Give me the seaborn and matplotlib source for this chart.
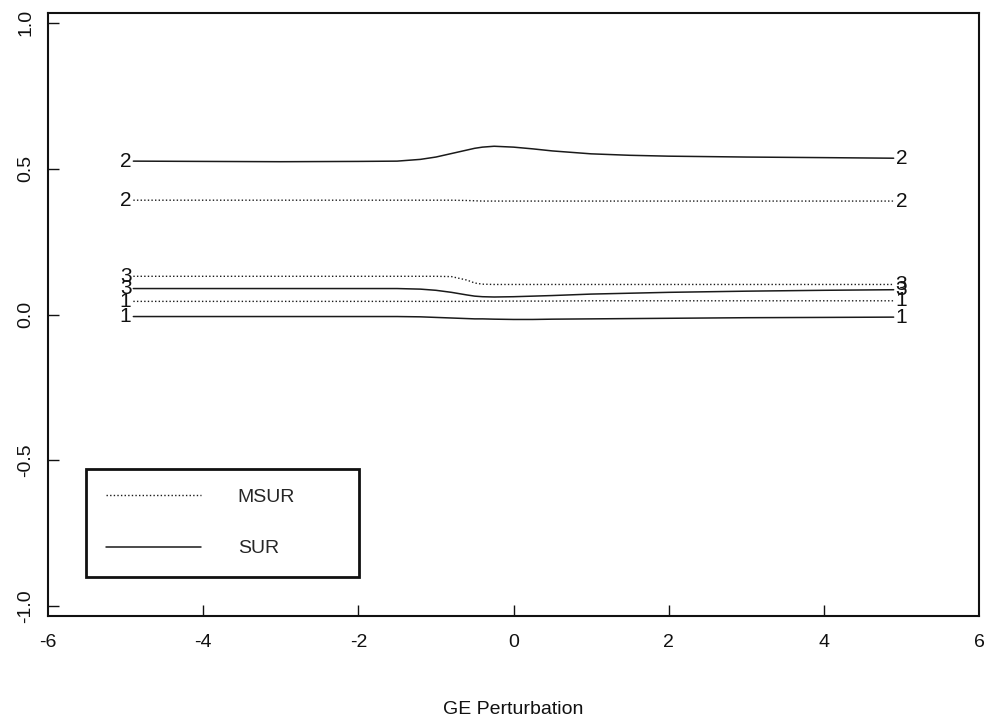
import numpy as np
import pandas as pd
import matplotlib
matplotlib.use("Agg")
import matplotlib.pyplot as plt
import seaborn as sns
from matplotlib.lines import Line2D

# ---------------- data ----------------
x_grid = [-4.9, -4, -3, -2, -1.5, -1.2, -1, -0.8, -0.6, -0.5, -0.4, -0.25,
          0, 0.25, 0.5, 1, 1.5, 2, 3, 4, 4.9]

sur_1 = [-0.007, -0.007, -0.007, -0.007, -0.007, -0.008, -0.010, -0.012, -0.014, -0.015, -0.015, -0.016,
         -0.017, -0.017, -0.016, -0.015, -0.014, -0.013, -0.011, -0.010, -0.009]
sur_2 = [0.526, 0.525, 0.524, 0.525, 0.526, 0.532, 0.540, 0.552, 0.564, 0.570, 0.574, 0.577,
         0.574, 0.568, 0.561, 0.551, 0.546, 0.543, 0.540, 0.538, 0.536]
sur_3 = [0.089, 0.089, 0.089, 0.089, 0.089, 0.087, 0.083, 0.076, 0.067, 0.063, 0.061, 0.060,
         0.061, 0.063, 0.065, 0.070, 0.073, 0.076, 0.080, 0.083, 0.085]
msur_1 = [0.045, 0.045, 0.045, 0.045, 0.045, 0.045, 0.045, 0.045, 0.045, 0.046, 0.046, 0.046,
          0.046, 0.046, 0.046, 0.047, 0.047, 0.047, 0.047, 0.047, 0.047]
msur_2 = [0.392, 0.392, 0.392, 0.392, 0.392, 0.392, 0.392, 0.392, 0.391, 0.390, 0.389, 0.389,
          0.389, 0.389, 0.389, 0.389, 0.389, 0.389, 0.389, 0.389, 0.389]
msur_3 = [0.131, 0.131, 0.131, 0.131, 0.131, 0.131, 0.131, 0.130, 0.118, 0.108, 0.104, 0.103,
          0.103, 0.103, 0.103, 0.103, 0.103, 0.103, 0.103, 0.103, 0.103]

label_x = [-5, 5]
x_ticks = [-4, -2, 0, 2, 4]
x_ticklabels = ["-6", "-4", "-2", "0", "2", "4", "6"]
y_ticks = [-1.0, -0.5, 0.0, 0.5, 1.0]
y_ticklabels = ["-1.0", "-0.5", "0.0", "0.5", "1.0"]
methods = ["MSUR", "SUR"]
x_title = "GE Perturbation"

series = [
    ("SUR", "1", sur_1), ("SUR", "2", sur_2), ("SUR", "3", sur_3),
    ("MSUR", "1", msur_1), ("MSUR", "2", msur_2), ("MSUR", "3", msur_3),
]

# ---------------- style ----------------
sns.set_style("ticks")
plt.rcParams["font.family"] = ["Liberation Sans", "DejaVu Sans"]

styles = {
    "SUR": dict(linestyle="-", linewidth=1.1, color="#1a1a1a"),
    "MSUR": dict(linestyle=(0, (1, 1.6)), linewidth=1.0, color="#1a1a1a"),
}

fig = plt.figure(figsize=(9.86, 7.2), dpi=100)
ax = fig.add_axes([48 / 986, 1 - 616 / 720, 931 / 986, 603 / 720])

for method, lab, vals in series:
    df = pd.DataFrame({"x": x_grid, "y": vals})
    sns.lineplot(data=df, x="x", y="y", ax=ax, estimator=None, sort=False,
                 legend=False, **styles[method])
    for lx, ly in zip(label_x, [vals[0], vals[-1]]):
        ax.text(lx, ly, lab, ha="center", va="center", fontsize=15,
                color="#111111")

ax.set_xlim(-6, 6)
ax.set_ylim(-1.034, 1.034)
ax.set_xticks([-6] + x_ticks + [6])
ax.set_xticklabels(x_ticklabels)
ax.set_yticks(y_ticks)
ax.set_yticklabels(y_ticklabels, rotation=90, va="center")
ax.tick_params(axis="both", direction="in", length=8, width=1.0,
               labelsize=14, colors="#111111")
ax.tick_params(axis="x", pad=13)
ax.tick_params(axis="y", pad=10)
# hide tick marks at the frame edges (-6, 6)
for t in [ax.xaxis.get_major_ticks()[0], ax.xaxis.get_major_ticks()[-1]]:
    t.tick1line.set_visible(False)

for sp in ax.spines.values():
    sp.set_visible(True)
    sp.set_linewidth(1.5)
    sp.set_color("#111111")

ax.set_xlabel(x_title, fontsize=14, labelpad=36, color="#111111")
ax.set_ylabel("")

handles = [Line2D([], [], **styles[m]) for m in methods]
leg = ax.legend(handles, methods, loc="lower left",
                bbox_to_anchor=(0.041, 0.065, 0.293, 0.192), mode="expand",
                fontsize=14, handlelength=4.9, handletextpad=1.9,
                labelspacing=1.75, borderpad=1.0, borderaxespad=0,
                frameon=True, fancybox=False)
leg.get_frame().set_edgecolor("#111111")
leg.get_frame().set_linewidth(2.0)
leg.get_frame().set_alpha(1)

fig.savefig("out.png", dpi=100)
